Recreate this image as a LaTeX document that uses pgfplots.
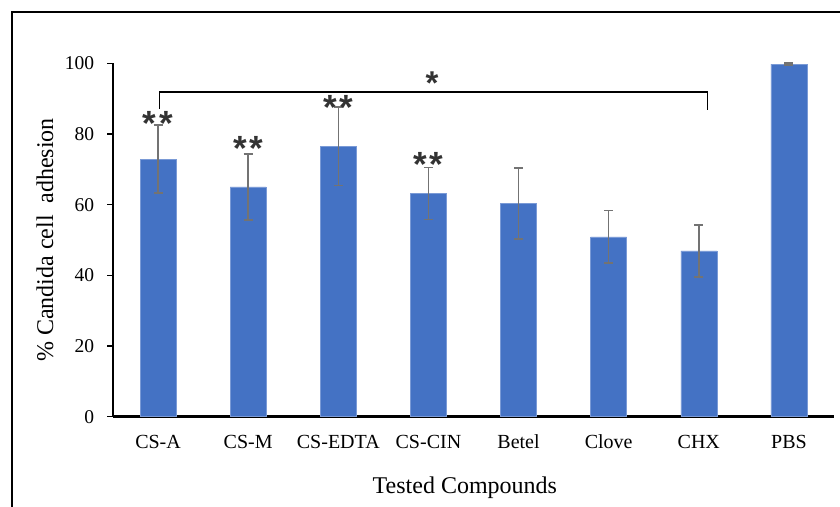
\documentclass[border=0pt]{standalone}
\usepackage{fontspec}
\setmainfont{Liberation Serif}
\newfontfamily\arialf{Liberation Sans}
\usepackage{pgfplots}
\usepackage{pgfplotstable}
\pgfplotsset{compat=1.18}
\definecolor{barblue}{HTML}{4472C4}
\definecolor{baredge}{HTML}{7A9AD6}
\definecolor{errgray}{HTML}{737373}

\pgfplotstableread{
x y e
0 72.9 9.65
1 65.0 9.4
2 76.5 11.1
3 63.2 7.35
4 60.3 10.0
5 50.9 7.4
6 46.9 7.4
7 99.8 0.3
}\adhesion

\begin{document}
\begin{tikzpicture}[x=1pt,y=1pt]
\useasboundingbox (0,0) rectangle (840,506);
\draw[line width=2pt] (12,-10) -- (12,494) -- (850,494);
\begin{axis}[
  at={(113pt,89.3pt)}, anchor=south west,
  scale only axis, width=721pt, height=353.4pt,
  xmin=-0.5, xmax=7.5, ymin=0, ymax=100,
  axis x line*=bottom, axis y line*=left,
  x axis line style={line width=2.5pt, black},
  y axis line style={line width=2pt, black},
  xtick={0,...,7},
  xticklabels={CS-A,CS-M,CS-EDTA,CS-CIN,Betel,Clove,CHX,PBS},
  x tick style={draw=none},
  ytick={0,20,...,100},
  tick align=outside,
  y tick style={line width=1.5pt, black},
  major tick length=6pt,
  /pgf/number format/assume math mode=true,
  yticklabel style={font=\fontsize{19.5}{23}\selectfont, anchor=east, inner sep=0pt, xshift=-12.7pt},
  xticklabel style={font=\fontsize{20}{24}\selectfont, anchor=base, yshift=-25.6pt, inner sep=0pt},
  xlabel={Tested Compounds},
  ylabel={\% Candida cell\ \ adhesion},
  xlabel style={font=\fontsize{24}{28}\selectfont, at={(rel axis cs:0.488,0)}, anchor=center, yshift=-71pt},
  ylabel style={font=\fontsize{24}{28}\selectfont, at={(rel axis cs:0,0.5)}, anchor=center, yshift=68pt},
  clip=false,
]
\addplot[ybar, bar width=36pt, fill=barblue, draw=baredge, line width=0.6pt,
  error bars/.cd, y dir=both, y explicit,
  error bar style={line width=1.6pt, errgray},
  error mark options={line width=1.6pt, errgray, mark size=4.5pt, rotate=90}]
  table[x=x, y=y, y error=e] {\adhesion};
\draw[black, line width=1.2pt] (axis cs:0.02,87.1) -- (axis cs:0.02,91.9) -- (axis cs:6.10,91.9) -- (axis cs:6.10,86.8);
\node[anchor=base, font=\arialf\bfseries\fontsize{35}{40}\selectfont, text=black!80] at (axis cs:0,79.6) {*\hspace{3pt}*};
\node[anchor=base, font=\arialf\bfseries\fontsize{35}{40}\selectfont, text=black!80] at (axis cs:1,72.6) {*\hspace{3pt}*};
\node[anchor=base, font=\arialf\bfseries\fontsize{35}{40}\selectfont, text=black!80] at (axis cs:2,84.1) {*\hspace{3pt}*};
\node[anchor=base, font=\arialf\bfseries\fontsize{35}{40}\selectfont, text=black!80] at (axis cs:3,68.1) {*\hspace{3pt}*};
\node[anchor=base, font=\arialf\bfseries\fontsize{33}{40}\selectfont, text=black!80] at (axis cs:3.04,91.2) {*};
\end{axis}
\end{tikzpicture}
\end{document}
